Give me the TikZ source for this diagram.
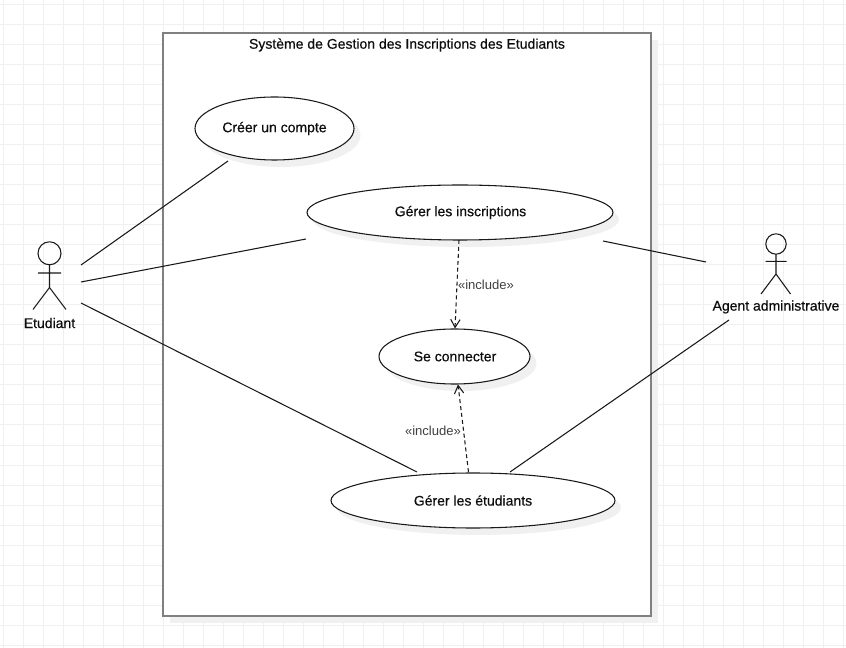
\documentclass[tikz,border=0pt]{standalone}
\usepackage{fontspec}
\setmainfont{Liberation Sans}
\newfontfamily\medfont[FakeBold=0.4]{Liberation Sans}
\usetikzlibrary{arrows.meta}
\tikzset{
  gridline/.style={draw=black!6,line width=0.75pt},
  sysbox/.style={draw=black!50,line width=1.5pt,fill=white,outer sep=0pt},
  shade/.style={fill=black!6,draw=none},
  usecase/.style={draw=black!90,line width=0.8pt,fill=white},
  casetext/.style={font=\medfont\fontsize{10.5pt}{12pt}\selectfont,text=black!95,inner sep=0pt},
  assoc/.style={draw=black!90,line width=0.8pt},
  incl/.style={draw=black!90,line width=0.8pt,dashed,dash pattern=on 3pt off 2.2pt,-{Straight Barb[length=6pt,width=7pt,line width=0.8pt]}},
  incltext/.style={font=\fontsize{9.8pt}{11pt}\selectfont,text=black!75,inner sep=0pt},
  stick/.style={draw=black!90,line width=0.8pt},
}
\begin{document}
\begin{tikzpicture}[x=0.75pt,y=-0.75pt]
\useasboundingbox (0,0) rectangle (846,648);
\fill[white] (0,0) rectangle (846,648);
\foreach \gx in {3,23,...,843} \draw[gridline] (\gx,0) -- (\gx,648);
\foreach \gy in {5,25,...,645} \draw[gridline] (0,\gy) -- (846,\gy);
% system box
\fill[shade] (170,40) rectangle (658,623);
\node[sysbox,minimum width=366pt,minimum height=437.25pt,inner sep=0pt,anchor=north west] (sys) at (163,33) {};
\node[casetext] (title) at (407,45) {Système de Gestion des Inscriptions des Etudiants};
% shadows
\fill[shade] (281,135.5) ellipse [x radius=79.5,y radius=31.5];
\fill[shade] (466,219.5) ellipse [x radius=153,y radius=27.5];
\fill[shade] (461,363.5) ellipse [x radius=75.5,y radius=27.5];
\fill[shade] (479,507.5) ellipse [x radius=142,y radius=27.5];
% use cases
\draw[usecase] (274.5,128.5) ellipse [x radius=79.5,y radius=31.5];
\node[casetext] (creer) at (274.5,128.5) {Créer un compte};
\draw[usecase] (460,212.5) ellipse [x radius=153,y radius=27.5];
\node[casetext] (inscr) at (460.5,212.5) {Gérer les inscriptions};
\draw[usecase] (454.5,356.5) ellipse [x radius=75.5,y radius=27.5];
\node[casetext] (conn) at (455,356.5) {Se connecter};
\draw[usecase] (473,500.5) ellipse [x radius=142,y radius=27.5];
\node[casetext] (etud) at (473,500.5) {Gérer les étudiants};
% actors
\draw[stick] (49.5,253.3) circle [radius=11.5];
\draw[stick] (49.5,264.8) -- (49.5,287.5) (38,273) -- (61,273) (33,309.5) -- (49.5,287.5) -- (66,309.5);
\node[casetext] (aetud) at (49.5,323) {Etudiant};
\draw[stick] (776,244) circle [radius=10.2];
\draw[stick] (776,254.2) -- (776,274) (765.5,261.3) -- (786.5,261.3) (761,294) -- (776,274) -- (790.5,294);
\node[casetext] (aagent) at (776,307) {Agent administrative};
% connector end points
\coordinate (e1) at (81,265); \coordinate (c1) at (228,161);
\coordinate (e2) at (81,282); \coordinate (i1) at (306,239);
\coordinate (e3) at (81,303); \coordinate (g1) at (417,472);
\coordinate (i2) at (603,241); \coordinate (a1) at (706,262);
\coordinate (a2) at (729,320); \coordinate (g2) at (510,472);
\coordinate (i3) at (459,240); \coordinate (s1) at (455,328.5);
\coordinate (g3) at (468.5,472); \coordinate (s2) at (458,384.5);
\draw[assoc] (e1) -- (c1);
\draw[assoc] (e2) -- (i1);
\draw[assoc] (e3) -- (g1);
\draw[assoc] (i2) -- (a1);
\draw[assoc] (a2) -- (g2);
\draw[incl] (i3) -- (s1);
\draw[incl] (g3) -- (s2);
\node[incltext] (l1) at (486,285) {«include»};
\node[incltext] (l2) at (433,431) {«include»};
\end{tikzpicture}
\end{document}
